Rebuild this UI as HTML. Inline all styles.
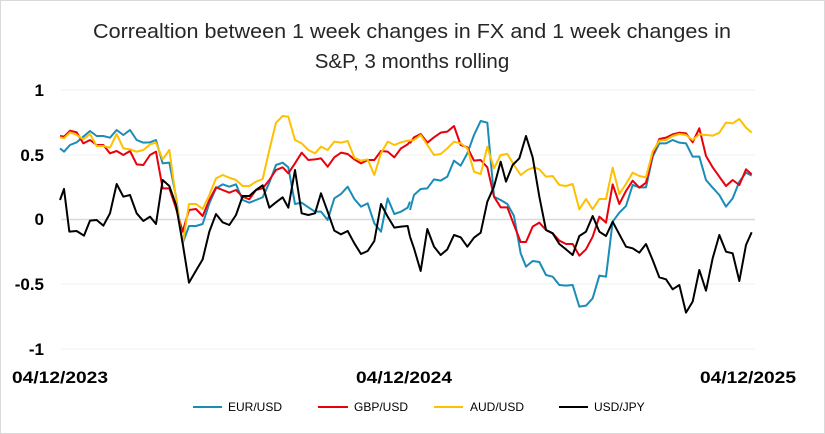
<!DOCTYPE html>
<html><head><meta charset="utf-8"><style>
body{margin:0;background:#fff}
svg{display:block;font-family:"Liberation Sans",sans-serif}
</style></head><body>
<svg width="825" height="434" viewBox="0 0 825 434" xmlns="http://www.w3.org/2000/svg">
<rect x="0.5" y="0.5" width="824" height="433" fill="#fff" stroke="#d9d9d9"/>
<text x="412" y="38" text-anchor="middle" font-size="20.5" fill="#262626" textLength="638" lengthAdjust="spacingAndGlyphs">Correaltion between 1 week changes in FX and 1 week changes in</text>
<text x="412" y="68" text-anchor="middle" font-size="20.5" fill="#262626">S&amp;P, 3 months rolling</text>
<g stroke="#f2f2f2" stroke-width="1">
<line x1="61" y1="90" x2="755" y2="90"/><line x1="61" y1="155" x2="755" y2="155"/>
<line x1="61" y1="284" x2="755" y2="284"/><line x1="61" y1="349" x2="755" y2="349"/>
</g>
<line x1="61" y1="219.5" x2="755" y2="219.5" stroke="#d9d9d9" stroke-width="1.5"/>
<g font-size="17" font-weight="bold" fill="#000" text-anchor="end">
<text x="44" y="96">1</text><text x="44" y="161">0.5</text><text x="44" y="225">0</text>
<text x="44" y="290">-0.5</text><text x="44" y="355">-1</text>
</g>
<g font-size="17" font-weight="bold" fill="#000">
<text x="12" y="383" textLength="96" lengthAdjust="spacingAndGlyphs">04/12/2023</text><text x="356" y="383" textLength="96" lengthAdjust="spacingAndGlyphs">04/12/2024</text><text x="700" y="383" textLength="96" lengthAdjust="spacingAndGlyphs">04/12/2025</text>
</g>
<g fill="none" stroke-width="6" stroke-linejoin="round" transform="translate(50,80) scale(0.33333)">
<polyline stroke="#1a8cb8" points="30,205 42,215 60,195 80,187 100,170 120,153 140,168 160,168 180,173 200,150 220,165 240,150 260,180 280,188 300,187 318,180 338,250 358,248 378,350 398,490 417,438 438,438 458,432 478,370 498,325 518,313 538,320 558,313 578,360 598,368 618,360 638,352 658,308 678,255 698,248 715,262 735,372 755,368 775,382 795,395 813,395 833,420 853,355 873,342 893,320 913,357 933,380 953,370 973,430 993,455 1013,355 1033,402 1053,395 1073,383 1080,365"/>
<polyline stroke="#e8000b" points="30,168 42,170 60,152 80,157 100,190 120,180 140,195 160,195 180,220 200,213 220,225 240,213 260,253 280,255 300,225 318,215 338,325 358,325 378,385 398,455 417,390 438,387 458,408 478,360 498,322 518,330 538,338 558,330 578,350 598,358 618,330 638,325 658,300 678,270 698,262 715,280 735,250 755,218 775,240 795,238 813,235 833,260 853,232 873,218 893,222 913,238 933,250 953,240 973,240 993,213 1013,215 1033,232 1053,205 1073,193 1080,185"/>
<polyline stroke="#ffc000" points="30,172 42,175 60,157 80,165 100,178 120,162 140,198 160,198 180,203 200,162 220,205 240,208 260,215 280,210 300,193 318,188 338,238 358,210 378,355 398,492 417,372 438,372 458,387 478,345 498,295 518,285 538,293 558,300 578,318 598,318 618,305 638,297 658,210 678,128 698,108 715,110 735,180 755,190 775,210 795,220 813,200 833,210 853,185 873,188 893,183 913,233 933,242 953,238 973,285 993,220 1013,185 1033,195 1053,187 1073,182 1080,182"/>
<polyline stroke="#000" points="30,360 42,327 58,455 80,453 102,467 120,422 140,420 160,437 180,400 200,312 220,350 240,345 260,400 280,423 300,410 318,432 338,300 358,318 378,375 398,490 417,608 438,572 458,538 478,455 498,402 518,427 538,435 558,405 578,348 598,348 618,330 638,316 658,383 678,367 698,352 715,383 735,270 755,400 775,405 795,400 813,340 833,395 853,452 873,463 893,453 913,490 933,522 953,513 973,483 993,372 1013,410 1033,443 1053,440 1073,438 1080,470"/>
</g>
<g fill="none" stroke-width="6" stroke-linejoin="round" transform="translate(400,80) scale(0.33333)">
<polyline stroke="#1a8cb8" points="30,390 42,345 62,327 82,325 102,298 122,302 142,290 162,242 182,257 202,220 222,165 242,123 262,128 282,350 302,360 322,372 342,408 362,520 378,560 398,543 418,546 438,585 458,590 478,615 498,617 518,615 538,680 558,677 578,655 598,587 618,590 638,425 658,398 678,378 698,315 718,322 738,322 758,230 778,190 798,190 818,180 838,188 858,190 878,230 898,230 918,300 938,323 958,345 978,380 998,355 1018,305 1038,278 1055,287"/>
<polyline stroke="#e8000b" points="30,190 42,172 62,162 82,188 102,172 122,158 142,155 162,138 182,195 202,202 222,242 242,240 262,262 282,350 302,382 322,382 342,435 362,486 378,486 398,440 418,428 438,450 458,460 478,482 498,492 518,492 538,527 558,508 578,470 598,410 618,428 638,313 658,372 678,333 698,302 718,323 738,308 758,225 778,177 798,173 818,163 838,158 858,160 878,187 898,145 918,228 938,262 958,290 978,318 998,300 1018,315 1038,268 1055,283"/>
<polyline stroke="#ffc000" points="30,182 42,180 62,165 82,195 102,225 122,222 142,205 162,185 182,190 202,205 222,275 242,282 262,200 282,265 302,225 322,222 342,255 362,285 382,270 402,262 418,268 438,290 458,288 478,315 498,318 518,312 538,388 558,357 578,388 598,357 618,357 638,263 658,342 678,312 698,278 718,288 738,292 758,215 778,182 798,180 818,168 838,162 858,165 878,180 898,163 918,165 938,167 958,158 978,128 998,130 1018,117 1038,143 1055,158"/>
<polyline stroke="#000" points="30,470 42,505 62,573 82,447 102,500 122,525 142,508 162,465 182,472 202,500 222,473 242,458 262,365 282,320 302,245 318,305 338,255 358,235 378,168 398,232 418,350 438,450 458,460 478,492 498,508 518,525 538,468 558,455 578,408 598,455 618,468 638,425 658,463 678,500 698,505 718,518 738,492 758,540 778,592 798,598 818,628 838,615 858,698 878,665 898,570 918,632 938,535 958,465 978,515 998,520 1018,603 1038,495 1055,457"/>
</g>
<g stroke-width="2">
<line x1="193" y1="407" x2="222" y2="407" stroke="#1a8cb8"/>
<line x1="318" y1="407" x2="348" y2="407" stroke="#e8000b"/>
<line x1="434" y1="407" x2="463" y2="407" stroke="#ffc000"/>
<line x1="559" y1="407" x2="588" y2="407" stroke="#000"/>
</g>
<g font-size="12" fill="#000">
<text x="228" y="411">EUR/USD</text><text x="354" y="411">GBP/USD</text>
<text x="470" y="411">AUD/USD</text><text x="594" y="411">USD/JPY</text>
</g>
</svg>
</body></html>
